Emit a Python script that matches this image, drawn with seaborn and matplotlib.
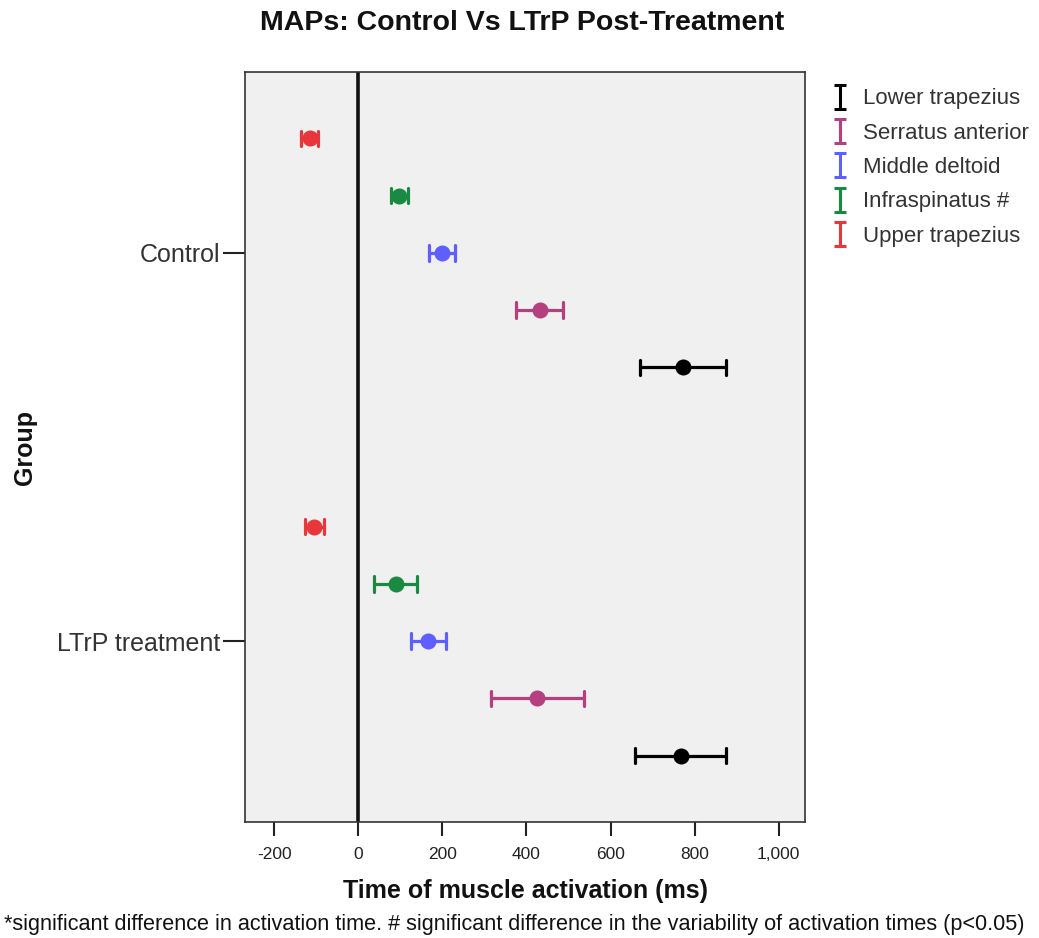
import numpy as np
import pandas as pd
import matplotlib
matplotlib.use("Agg")
import matplotlib.pyplot as plt
from matplotlib.lines import Line2D
from matplotlib.path import Path
from matplotlib.ticker import FuncFormatter
import seaborn as sns

# Muscle activation times (ms): mean and error-bar half width per group
groups = ["Control", "LTrP treatment"]
muscles = ["Upper trapezius", "Infraspinatus #", "Middle deltoid",
           "Serratus anterior", "Lower trapezius"]
colors = ["#E8363B", "#1A8A43", "#5F5FFF", "#B5407F", "#000000"]

control_mean = [-116, 97, 198, 432, 772]
control_err = [20, 20, 31, 56, 102]
ltrp_mean = [-105, 89, 166, 426, 767]
ltrp_err = [22, 51, 42, 111, 109]

x_ticks = [-200, 0, 200, 400, 600, 800, 1000]

# Long table: each point carries its lower bound, mean and upper bound,
# so the median is the mean and min/max give the error bar.
rows = []
for g, means, errs in [(groups[0], control_mean, control_err),
                       (groups[1], ltrp_mean, ltrp_err)]:
    for m, mu, e in zip(muscles, means, errs):
        for v in (mu - e, mu, mu + e):
            rows.append({"Group": g, "Muscle": m, "Time": v})
df = pd.DataFrame(rows)

sns.set_theme(style="white")
plt.rcParams["font.family"] = ["Liberation Sans", "DejaVu Sans"]
plt.rcParams["axes.unicode_minus"] = False

fig = plt.figure(figsize=(10.39, 9.38), dpi=100)
ax = fig.add_axes([0.2358, 0.1237, 0.539, 0.7995])
ax.set_facecolor("#F0F0F0")

sns.pointplot(
    data=df, x="Time", y="Group", hue="Muscle",
    order=groups, hue_order=muscles, palette=colors,
    estimator="median", errorbar=lambda v: (v.min(), v.max()),
    dodge=0.59, linestyle="none", capsize=0.04,
    markers="o", markersize=9.5, err_kws={"linewidth": 2.3},
    legend=False, ax=ax,
)

ax.axvline(0, color="#111111", lw=2.6, zorder=1)

ax.set_xlim(-270, 1063)
ax.set_ylim(1.466, -0.466)
ax.set_xticks(x_ticks)
ax.xaxis.set_major_formatter(FuncFormatter(lambda v, p: f"{v:,.0f}"))

for s in ax.spines.values():
    s.set_color("#333333")
    s.set_linewidth(1.2)

ax.tick_params(axis="x", bottom=True, length=10, width=1.5, color="#222222",
               labelsize=12.5, labelcolor="#222222", pad=8)
ax.tick_params(axis="y", left=True, length=16, width=1.5, color="#222222",
               labelsize=18, labelcolor="#333333", pad=2)

ax.set_xlabel("Time of muscle activation (ms)", fontsize=18, fontweight="bold",
              color="#111111", labelpad=12)
ax.set_ylabel("Group", fontsize=18, fontweight="bold", color="#111111")
ax.yaxis.set_label_coords(-0.372, 0.5)

fig.text(0.503, 0.976, "MAPs: Control Vs LTrP Post-Treatment", ha="center",
         va="center", fontsize=20.5, fontweight="bold", color="#111111")

# Error-bar glyph for the legend
ibar = Path([(0, -1), (0, 1), (-0.55, 1), (0.55, 1), (-0.55, -1), (0.55, -1)],
            [Path.MOVETO, Path.LINETO, Path.MOVETO, Path.LINETO,
             Path.MOVETO, Path.LINETO])
handles = [Line2D([], [], linestyle="none", marker=ibar, markersize=17,
                  markeredgewidth=2.2, color=c, markeredgecolor=c)
           for c in colors]
order = list(range(len(muscles)))[::-1]
fig.legend([handles[i] for i in order], [muscles[i] for i in order],
           loc="upper left", bbox_to_anchor=(0.781, 0.927), frameon=False,
           fontsize=16, handlelength=0.8, handletextpad=0.6,
           labelspacing=0.6, labelcolor="#333333")

fig.text(0.004, 0.014,
         "*significant difference in activation time. # significant difference "
         "in the variability of activation times (p<0.05)",
         ha="left", va="center", fontsize=15.6, color="#111111")

fig.savefig("out.png", dpi=100)
